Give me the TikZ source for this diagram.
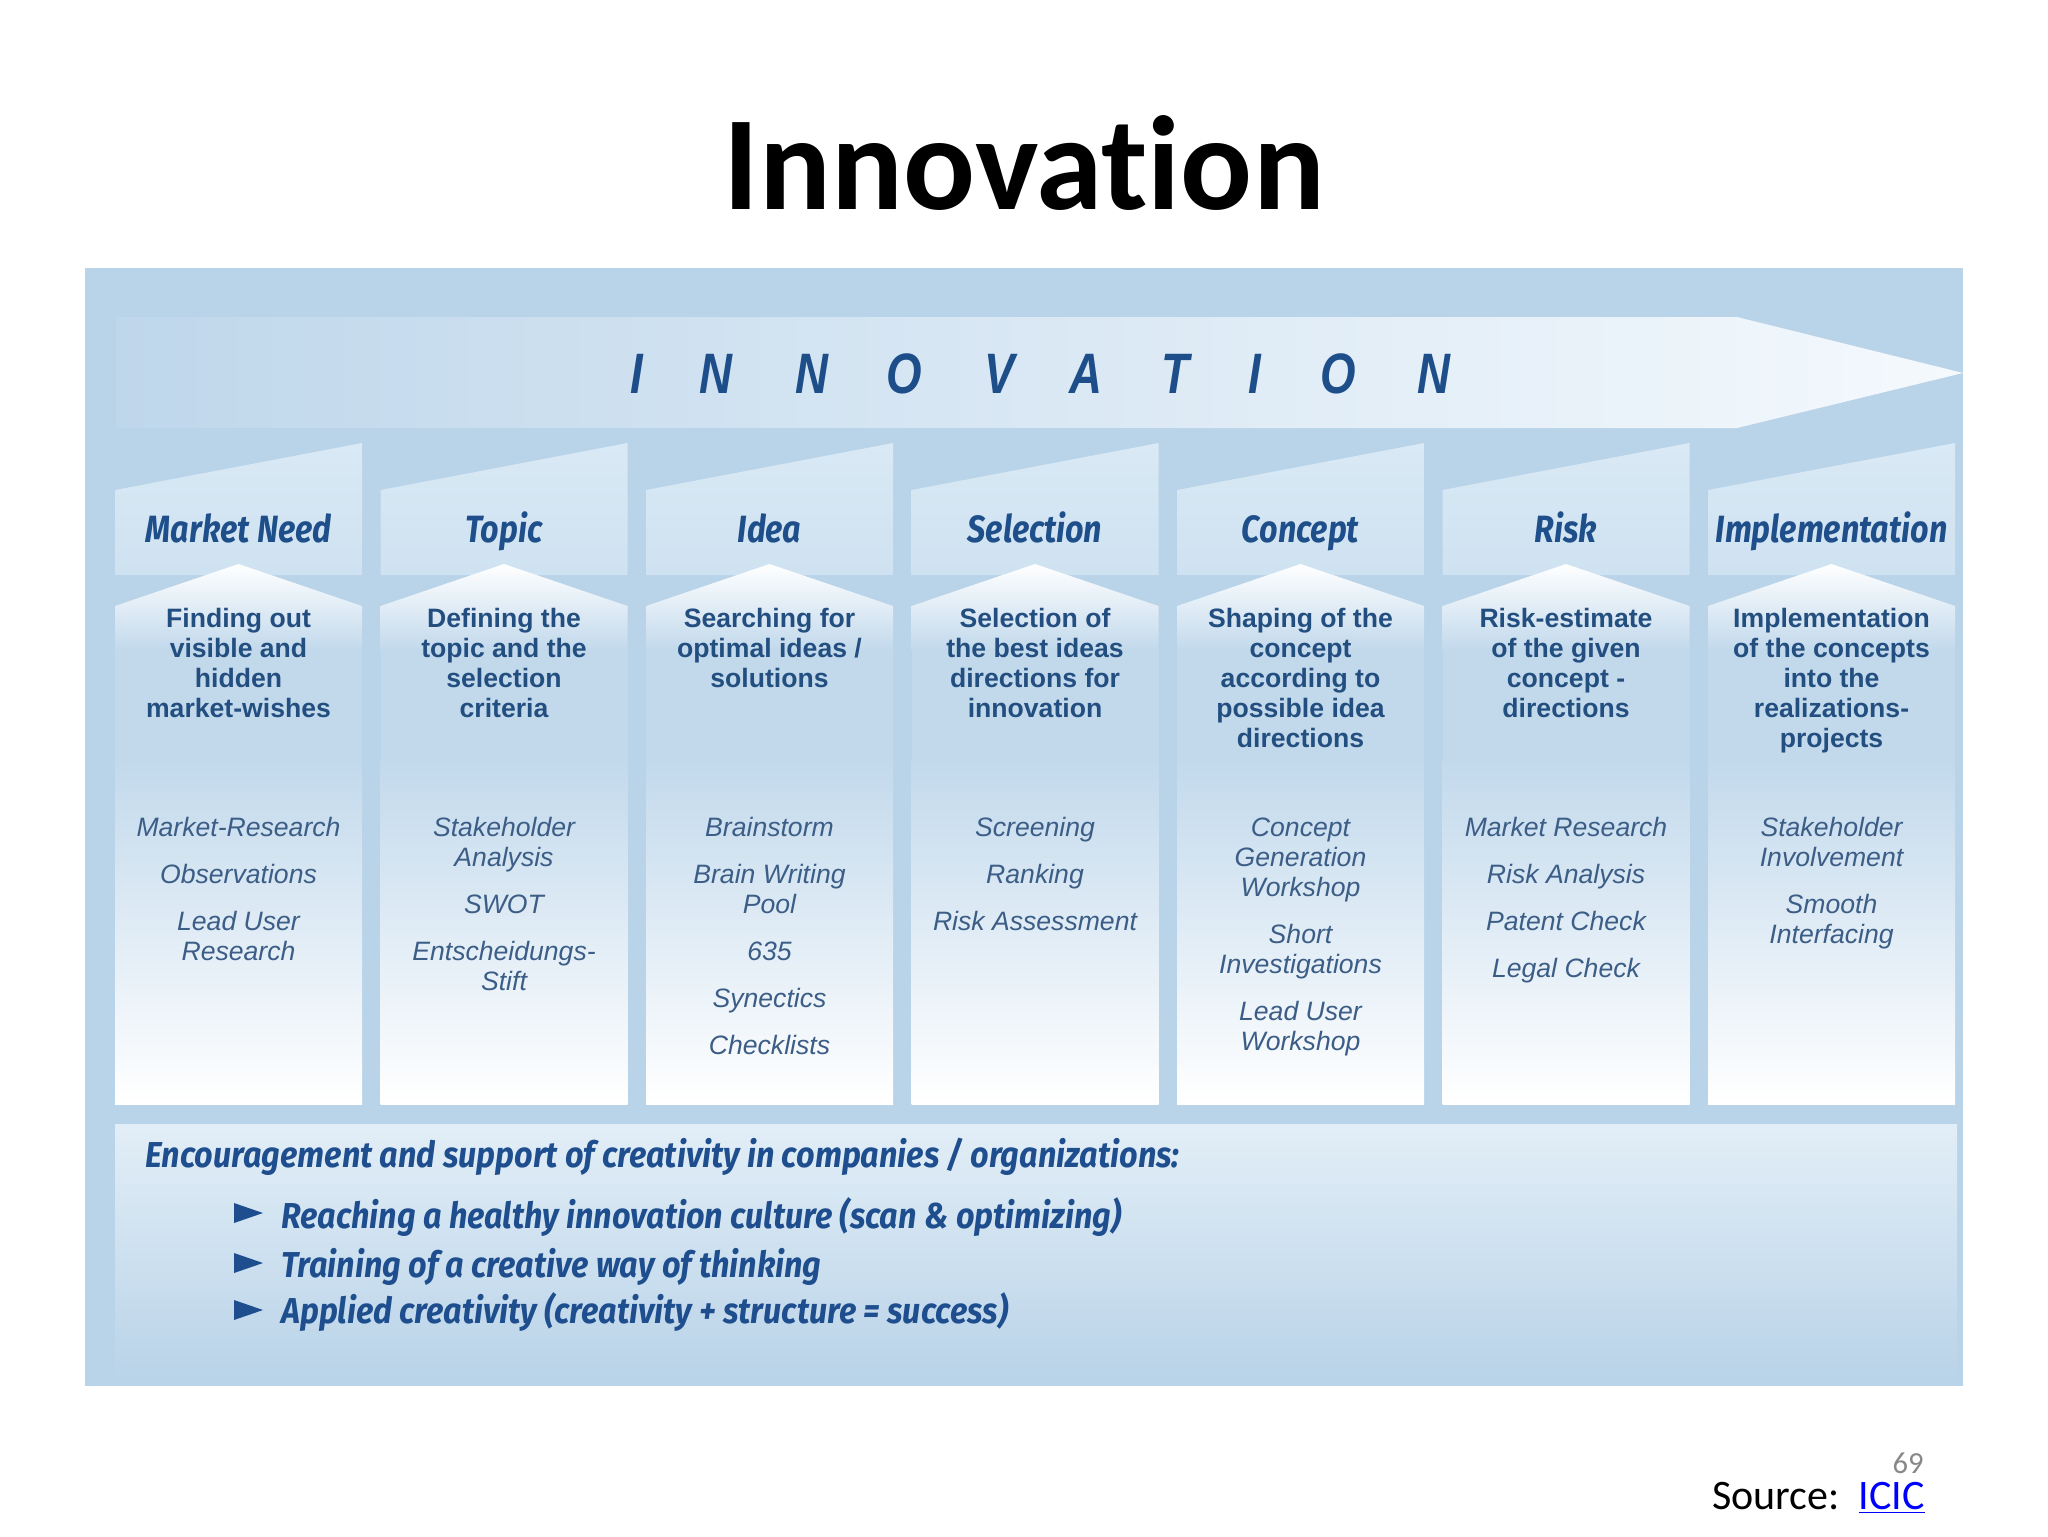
\documentclass[tikz,border=0pt]{standalone}
\usepackage{fontspec}
\setmainfont[Ligatures=NoCommon]{Carlito}
\newfontfamily\innofont[FakeStretch=0.8]{Liberation Sans}
\newfontfamily\headfont[FakeStretch=0.85]{Fira Sans}
\newfontfamily\descfont{Liberation Sans}
\newfontfamily\botfont[FakeStretch=0.9]{Fira Sans}
\definecolor{panel}{HTML}{B9D3E8}
\definecolor{bandL}{HTML}{BFD7EB}
\definecolor{bandM}{HTML}{D8E8F4}
\definecolor{bandR}{HTML}{F4F9FD}
\definecolor{headT}{HTML}{D9E9F5}
\definecolor{headB}{HTML}{CFE2F1}
\definecolor{descB}{HTML}{C2D9EC}
\definecolor{botT}{HTML}{E2EEF7}
\definecolor{inno}{HTML}{1D4E89}
\definecolor{hdc}{HTML}{1F4F8A}
\definecolor{descc}{HTML}{234E80}
\definecolor{methc}{HTML}{3B5D86}
\definecolor{botc}{HTML}{1E4E8E}
\definecolor{linkblue}{HTML}{0000FF}
\definecolor{pgray}{HTML}{888888}
\begin{document}
\begin{tikzpicture}[x=0.5pt,y=-0.5pt,
  txt/.style={inner sep=0pt, anchor=base},
  letter/.style={txt, font=\innofont\bfseries\itshape\fontsize{28.5}{28.5}\selectfont, text=inno},
  hd/.style={txt, font=\headfont\bfseries\itshape\fontsize{19}{19}\selectfont, text=hdc},
  desc/.style={txt, font=\descfont\bfseries\fontsize{13.3}{13.3}\selectfont, text=descc},
  meth/.style={txt, font=\descfont\itshape\fontsize{13.3}{13.3}\selectfont, text=methc},
  bot/.style={inner sep=0pt, anchor=base west, font=\botfont\bfseries\itshape\fontsize{18}{18}\selectfont, text=botc},
  bullet/.style={fill=botc}]
\useasboundingbox (0,0) rectangle (2048,1536);
\fill[white] (0,0) rectangle (2048,1536);
% title
\node[txt, font=\bfseries\fontsize{67}{67}\selectfont] (title) at (1024,209) {Innovation};
% panel
\fill[panel] (85,268) rectangle (1963,1386);
% arrow band
\shade[left color=bandL, middle color=bandM, right color=bandR]
  (116,317) -- (1737,317) -- (1963,373) -- (1737,428) -- (116,428) -- cycle;
\foreach \lx/\ltr [count=\k] in {637/I,716/N,812/N,904/O,1000/V,1086/A,1175/T,1255/I,1338/O,1434/N}
  \node[letter] (L\k) at (\lx,393) {\ltr};
% columns
\foreach \i in {0,...,6} {
  \pgfmathsetmacro\colL{115+265.5*\i}
  \pgfmathsetmacro\colR{\colL+247}
  \pgfmathsetmacro\colC{\colL+123.5}
  \shade[top color=headT, bottom color=headB] (\colL,490) -- (\colR,443) -- (\colR,575) -- (\colL,575) -- cycle;
  \shade[top color=white, bottom color=descB] (\colL,606) -- (\colC,564) -- (\colR,606) -- (\colR,650) -- (\colL,650) -- cycle;
  \fill[descB] (\colL,649) rectangle (\colR,761);
  \shade[top color=descB, bottom color=white] (\colL,760) rectangle (\colR,1104);
}
% headers
\foreach \hx/\htxt [count=\k] in {238.5/Market Need,504/Topic,769.5/Idea,1035/Selection,1300.5/Concept,1566/Risk,1831.5/Implementation}
  \node[hd] (h\k) at (\hx,542) {\htxt};
% descriptions
\foreach \dx/\dy/\dtxt [count=\k] in {
  238.5/627/Finding out, 238.5/657/visible and, 238.5/687/hidden, 238.5/717/market-wishes,
  504/627/Defining the, 504/657/topic and the, 504/687/selection, 504/717/criteria,
  769.5/627/Searching for, 769.5/657/{optimal ideas /}, 769.5/687/solutions,
  1035/627/Selection of, 1035/657/the best ideas, 1035/687/directions for, 1035/717/innovation,
  1300.5/627/Shaping of the, 1300.5/657/concept, 1300.5/687/according to, 1300.5/717/possible idea, 1300.5/747/directions,
  1566/627/Risk-estimate, 1566/657/of the given, 1566/687/concept -, 1566/717/directions,
  1831.5/627/Implementation, 1831.5/657/of the concepts, 1831.5/687/into the, 1831.5/717/realizations-, 1831.5/747/projects}
  \node[desc] (d\k) at (\dx,\dy) {\dtxt};
% methods
\foreach \mx/\my/\mtxt [count=\k] in {
  238.5/836/Market-Research, 238.5/883/Observations, 238.5/930/Lead User, 238.5/960/Research,
  504/836/Stakeholder, 504/866/Analysis, 504/913/SWOT, 504/960/Entscheidungs-, 504/990/Stift,
  769.5/836/Brainstorm, 769.5/883/Brain Writing, 769.5/913/Pool, 769.5/960/635, 769.5/1007/Synectics, 769.5/1054/Checklists,
  1035/836/Screening, 1035/883/Ranking, 1035/930/Risk Assessment,
  1300.5/836/Concept, 1300.5/866/Generation, 1300.5/896/Workshop, 1300.5/943/Short, 1300.5/973/Investigations, 1300.5/1020/Lead User, 1300.5/1050/Workshop,
  1566/836/Market Research, 1566/883/Risk Analysis, 1566/930/Patent Check, 1566/977/Legal Check,
  1831.5/836/Stakeholder, 1831.5/866/Involvement, 1831.5/913/Smooth, 1831.5/943/Interfacing}
  \node[meth] (m\k) at (\mx,\my) {\mtxt};
% bottom box
\shade[top color=botT, bottom color=panel] (115,1124) rectangle (1957,1380);
\node[bot] (enc) at (145,1167) {Encouragement and support of creativity in companies / organizations:};
\fill[bullet] (234,1203) -- (263,1213) -- (234,1223) -- cycle;
\fill[bullet] (234,1253) -- (263,1263) -- (234,1273) -- cycle;
\fill[bullet] (234,1300) -- (263,1310) -- (234,1320) -- cycle;
\node[bot] (b1) at (281,1228) {Reaching a healthy innovation culture (scan \& optimizing)};
\node[bot] (b2) at (281,1277) {Training of a creative way of thinking};
\node[bot] (b3) at (281,1323) {Applied creativity (creativity + structure = success)};
% source and page number
\node[txt, anchor=base east, font=\fontsize{15.3}{15.3}\selectfont, text=pgray] (pg) at (1924,1473) {69};
\node[txt, anchor=base east, font=\fontsize{21}{21}\selectfont] (src) at (1925,1509) {Source:\ \ \textcolor{linkblue}{\underline{ICIC}}};
\end{tikzpicture}
\end{document}
